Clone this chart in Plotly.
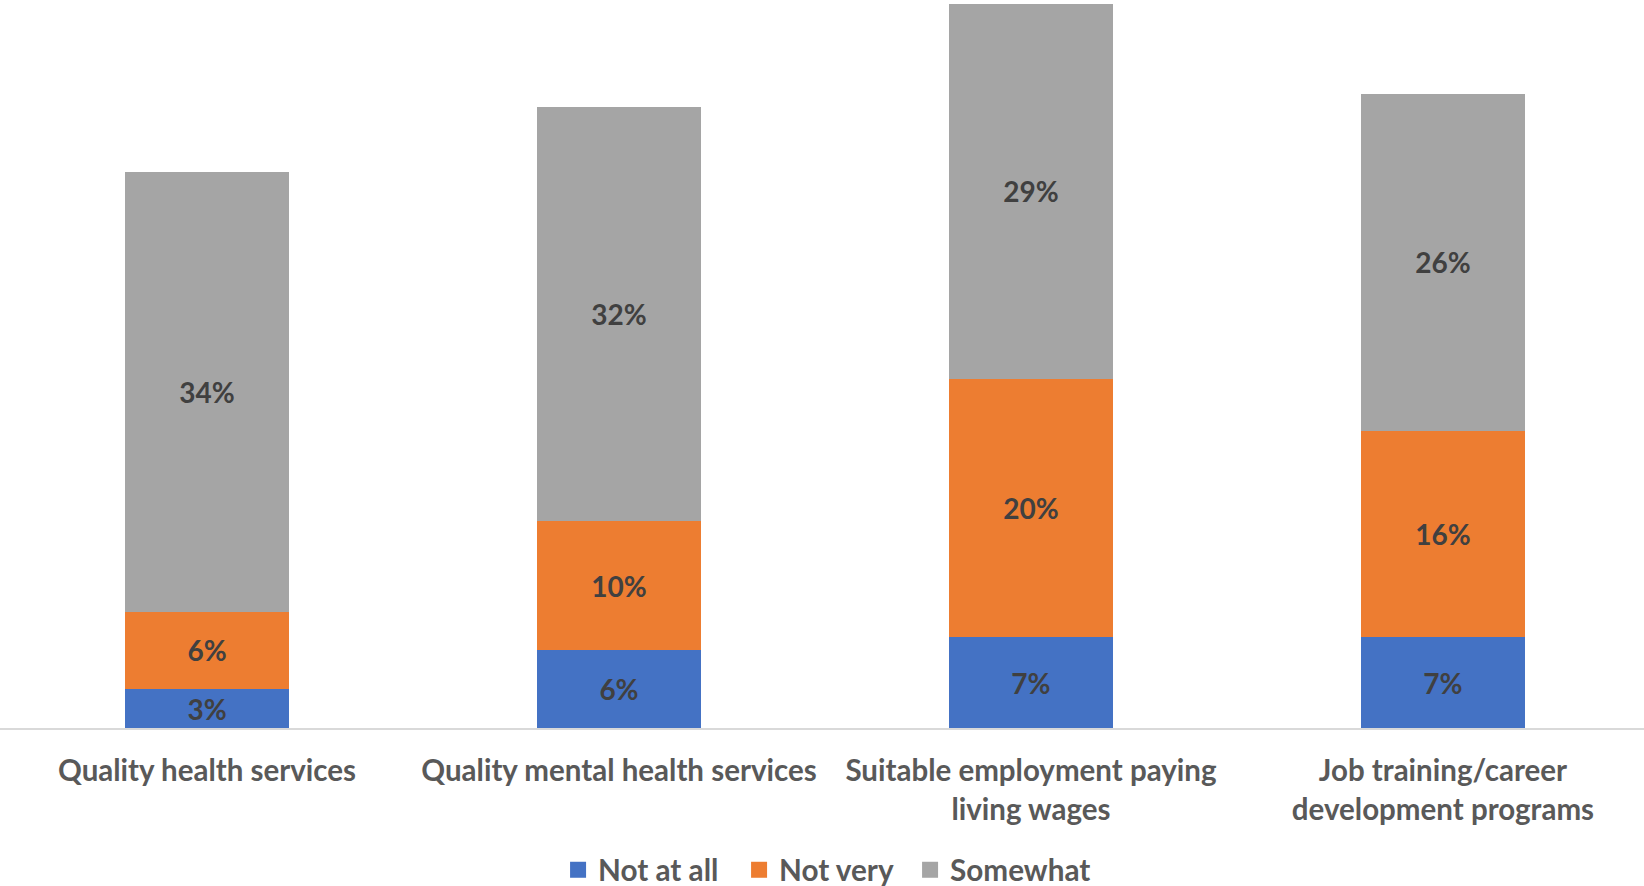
import plotly.graph_objects as go

categories = ["Quality health services", "Quality mental health services",
              "Suitable employment paying<br>living wages",
              "Job training/career<br>development programs"]
not_at_all = [3, 6, 7, 7]
not_very = [6, 10, 20, 16]
somewhat = [34, 32, 29, 26]

series = [("Not at all", not_at_all, "#4472C4"),
          ("Not very", not_very, "#ED7D31"),
          ("Somewhat", somewhat, "#A5A5A5")]
legend_widths = [136, 126, 145]

FONT = "Lato"
fig = go.Figure()
for name, vals, col in series:
    fig.add_trace(go.Bar(
        x=categories, y=vals, name=name, marker=dict(color=col, line=dict(width=0)),
        texttemplate="%{y}%", textposition="inside", insidetextanchor="middle",
        constraintext="none", showlegend=False,
        textfont=dict(family=FONT, size=28, color="#404040", weight="bold"),
        hoverinfo="skip",
    ))
# legend entries with larger square markers
for (name, vals, col), lw in zip(series, legend_widths):
    fig.add_trace(go.Scatter(
        x=[None], y=[None], mode="markers", name=name, legendwidth=lw,
        marker=dict(symbol="square", size=16, color=col), hoverinfo="skip",
    ))

fig.update_layout(
    width=1644, height=886,
    barmode="stack", bargap=0.6,
    paper_bgcolor="white", plot_bgcolor="white",
    margin=dict(l=0, r=0, t=0, b=158, autoexpand=False),
    xaxis=dict(range=[-0.5024, 3.488], showgrid=False, showline=True,
               linecolor="#D9D9D9", linewidth=2, ticks="", automargin=False,
               ticklabelstandoff=16,
               tickfont=dict(family=FONT, size=29.5, color="#595959", weight="bold")),
    yaxis=dict(range=[0, 56.3], visible=False, automargin=False),
    showlegend=True,
    legend=dict(orientation="h", x=0.5043, xanchor="center", y=-0.195, yanchor="middle",
                font=dict(family=FONT, size=29.7, color="#595959", weight="bold"),
                traceorder="normal", itemsizing="trace"),
)

fig.write_html("out.html", config={"displayModeBar": False},
               post_script="document.body.style.margin='0';document.body.style.overflow='hidden';")
